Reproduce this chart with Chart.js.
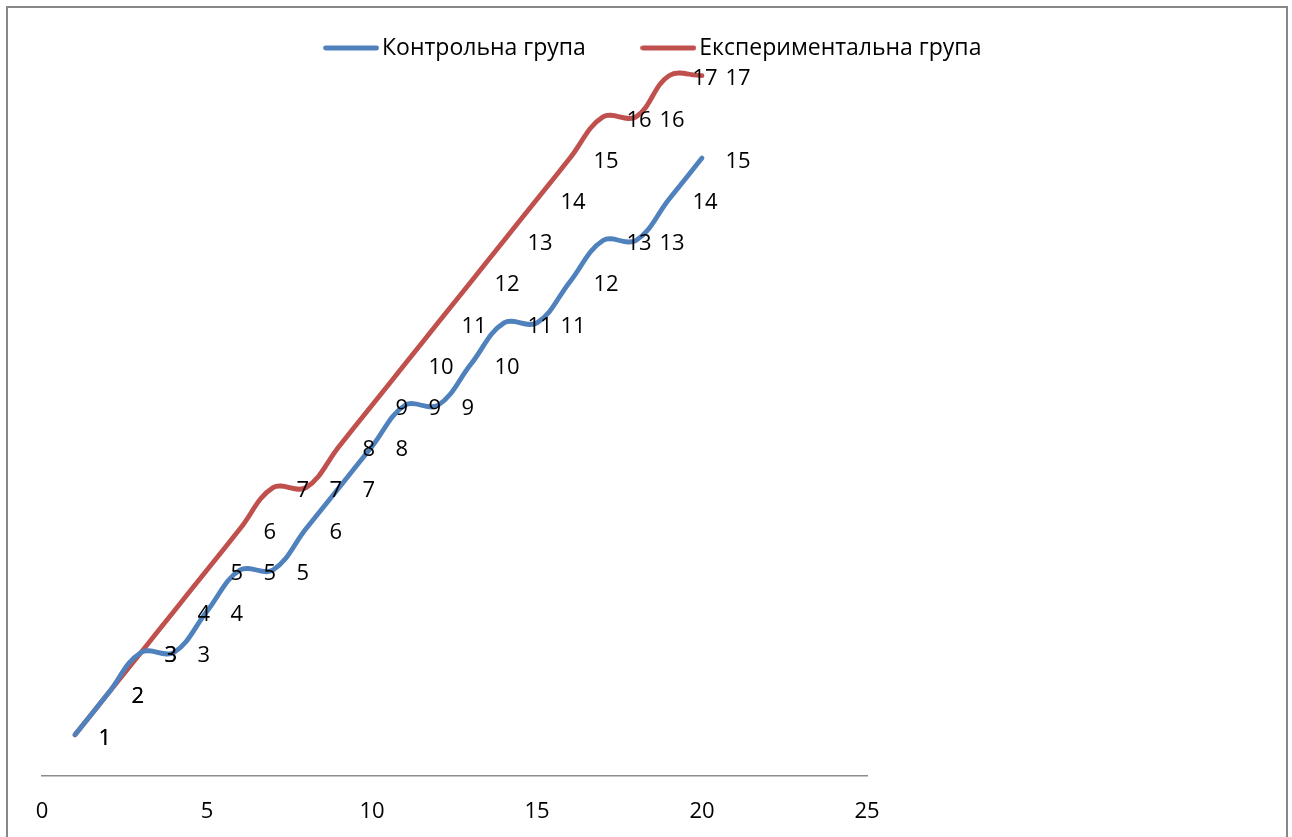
<!DOCTYPE html>
<html>
<head>
<meta charset="utf-8">
<script src="https://cdn.jsdelivr.net/npm/chart.js@4.4.1/dist/chart.umd.min.js"></script>
<style>
html,body{margin:0;padding:0;background:#ffffff;}
#wrap{width:1292px;height:837px;position:relative;overflow:hidden;}
canvas{display:block;}
</style>
</head>
<body>
<div id="wrap"><canvas id="c" width="1292" height="837"></canvas></div>
<script>
// ---- data ----
const xValues = [1,2,3,4,5,6,7,8,9,10,11,12,13,14,15,16,17,18,19,20];
const controlValues = [1,2,3,3,4,5,5,6,7,8,9,9,10,11,11,12,13,13,14,15];
const experimentalValues = [1,2,3,4,5,6,7,7,8,9,10,11,12,13,14,15,16,16,17,17];
const seriesNames = ['Контрольна група', 'Експериментальна група'];
const xTickValues = [0,5,10,15,20,25];
const seriesColors = ['#4F81BD', '#C0504D'];

const FONT = '"Open Sans", "Noto Sans", "DejaVu Sans", sans-serif';
const FS = 22;
const LEGEND_FS = 23;
const LINE_W = 4.8;

function toPoints(xs, ys){ return xs.map((x,i)=>({x:x, y:ys[i]})); }

// legend marker: short thick line with round caps
function legendMarker(color){
  const c = document.createElement('canvas');
  c.width = 56; c.height = 8;
  const g = c.getContext('2d');
  g.strokeStyle = color;
  g.lineWidth = LINE_W;
  g.lineCap = 'round';
  g.beginPath();
  g.moveTo(2.5, 4);
  g.lineTo(53.5, 4);
  g.stroke();
  return c;
}

const framePlugin = {
  id: 'frame',
  beforeDraw(chart){
    const ctx = chart.ctx;
    ctx.save();
    ctx.fillStyle = '#ffffff';
    ctx.fillRect(0,0,chart.width,chart.height);
    ctx.strokeStyle = '#878787';
    ctx.lineWidth = 2;
    ctx.beginPath();
    ctx.moveTo(7, chart.height + 5);
    ctx.lineTo(7, 7);
    ctx.lineTo(1287, 7);
    ctx.lineTo(1287, chart.height + 5);
    ctx.stroke();
    ctx.restore();
  }
};

const labelPlugin = {
  id: 'pointLabels',
  afterDatasetsDraw(chart){
    const ctx = chart.ctx;
    ctx.save();
    ctx.font = FS + 'px ' + FONT;
    ctx.fillStyle = '#000000';
    ctx.textAlign = 'left';
    ctx.textBaseline = 'middle';
    chart.data.datasets.forEach((ds, i) => {
      const meta = chart.getDatasetMeta(i);
      meta.data.forEach((pt, j) => {
        ctx.fillText(String(ds.data[j].y), pt.x + 23.5, pt.y + 3.5);
      });
    });
    ctx.restore();
  }
};

function makeDataset(i, values){
  return {
    label: seriesNames[i],
    data: toPoints(xValues, values),
    borderColor: seriesColors[i],
    backgroundColor: seriesColors[i],
    borderWidth: LINE_W,
    borderCapStyle: 'round',
    borderJoinStyle: 'round',
    pointRadius: 0,
    pointStyle: legendMarker(seriesColors[i]),
    tension: 0.38,
    fill: false,
    clip: false
  };
}

new Chart(document.getElementById('c'), {
  type: 'line',
  data: {
    datasets: [ makeDataset(0, controlValues), makeDataset(1, experimentalValues) ]
  },
  options: {
    responsive: false,
    animation: false,
    devicePixelRatio: 1,
    layout: { padding: { left: 21, right: 0, top: -26.5, bottom: 12 } },
    plugins: {
      legend: {
        display: true,
        position: 'top',
        align: 'center',
        labels: {
          usePointStyle: true,
          pointStyleWidth: 39,
          color: '#000000',
          font: { family: FONT, size: LEGEND_FS },
          padding: 63
        }
      },
      tooltip: { enabled: false }
    },
    scales: {
      x: {
        type: 'linear',
        min: 0,
        max: 25,
        afterBuildTicks(scale){ scale.ticks = xTickValues.map(v => ({value: v})); },
        grid: { display: false, drawTicks: false },
        border: { display: true, color: '#8c8c8c', width: 1.5 },
        ticks: { color: '#000000', font: { family: FONT, size: FS }, padding: 23, maxRotation: 0 },
        afterFit(scale){ scale.height = 49; }
      },
      y: {
        position: 'right',
        display: true,
        min: 0,
        max: 17.15,
        grid: { display: false, drawTicks: false },
        border: { display: false },
        ticks: { display: false },
        afterFit(scale){ scale.width = 425; }
      },
      yLeft: {
        type: 'linear',
        position: 'left',
        display: true,
        min: 0,
        max: 17.15,
        grid: { display: false, drawTicks: false },
        border: { display: false },
        ticks: { display: false },
        afterFit(scale){ scale.width = 21; }
      }
    }
  },
  plugins: [framePlugin, labelPlugin]
});
</script>
</body>
</html>
